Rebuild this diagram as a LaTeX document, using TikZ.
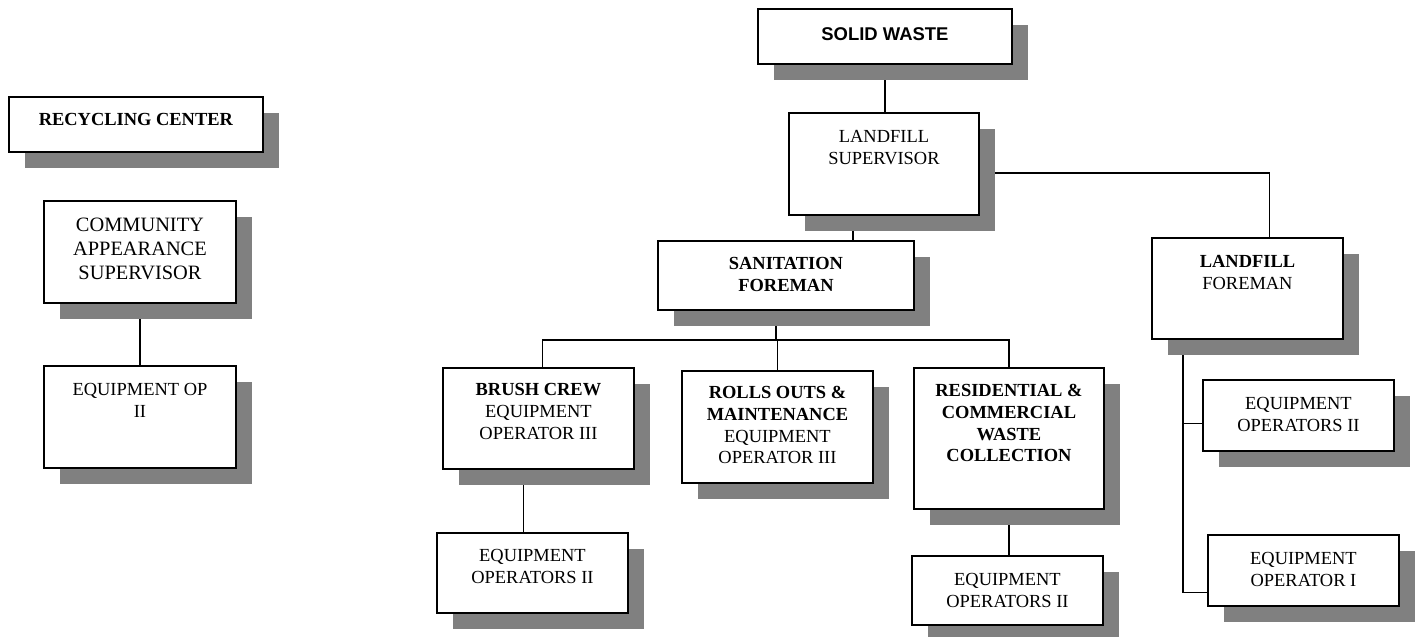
\documentclass[tikz,border=0pt]{standalone}
\usepackage{fontspec}
\setmainfont{Liberation Serif}
\setsansfont{Liberation Sans}
\usetikzlibrary{positioning,calc,shadows,backgrounds}
\definecolor{shade}{RGB}{128,128,128}

\begin{document}
\begin{tikzpicture}[x=0.02cm,y=-0.02cm,
    box/.style={draw,line width=1.1pt,fill=white,inner sep=0pt,anchor=north west,
      drop shadow={shadow xshift=0.33cm,shadow yshift=-0.33cm,fill=shade,opacity=1}},
    wh/.style 2 args={minimum width=#1*0.02cm,minimum height=#2*0.02cm},
    txt/.style={anchor=north,inner sep=0pt,align=center,
      font=\fontsize{10.5}{12.4}\selectfont},
    link/.style={draw,line width=1.1pt}]
  \useasboundingbox (0,0) rectangle (1417,636);
  % recycling center side
  \node[box,wh={254}{55}] (rc) at (8,96) {};
  \node[box,wh={192}{102}] (cas) at (43,200) {};
  \node[box,wh={192}{102}] (eop) at (43,365) {};
  % solid waste side
  \node[box,wh={254}{55}] (sw) at (757,8) {};
  \node[box,wh={190}{102}] (ls) at (788,112) {};
  \node[box,wh={256}{69}] (sf) at (657,240) {};
  \node[box,wh={191}{101}] (lf) at (1151,237) {};
  \node[box,wh={191}{101}] (bc) at (442,367) {};
  \node[box,wh={191}{112}] (ro) at (681,370) {};
  \node[box,wh={190}{141}] (rcw) at (913,367) {};
  \node[box,wh={191}{80}] (bop) at (436,532) {};
  \node[box,wh={191}{69}] (rop) at (911,555) {};
  \node[box,wh={191}{71}] (lop2) at (1202,379) {};
  \node[box,wh={191}{71}] (lop1) at (1207,534) {};

  % texts
  \node[txt] (rc-t) at ($(rc.north)+(0,17)$) {\textbf{RECYCLING CENTER}};
  \node[txt,font=\fontsize{11.6}{13.6}\selectfont] (cas-t) at ($(cas.north)+(0,18)$)
    {COMMUNITY\\APPEARANCE\\SUPERVISOR};
  \node[txt] (eop-t) at ($(eop.north)+(0,18)$) {EQUIPMENT OP\\II};
  \node[txt,font=\sffamily\bfseries\fontsize{10.5}{12.4}\selectfont] (sw-t)
    at ($(sw.north)+(0,19)$) {SOLID WASTE};
  \node[txt] (ls-t) at ($(ls.north)+(0,18)$) {LANDFILL\\SUPERVISOR};
  \node[txt] (sf-t) at ($(sf.north)+(0,17)$) {\textbf{SANITATION}\\\textbf{FOREMAN}};
  \node[txt] (lf-t) at ($(lf.north)+(0,18)$) {\textbf{LANDFILL}\\FOREMAN};
  \node[txt] (bc-t) at ($(bc.north)+(0,16)$) {\textbf{BRUSH CREW}\\EQUIPMENT\\OPERATOR III};
  \node[txt] (ro-t) at ($(ro.north)+(0,16)$)
    {\textbf{ROLLS OUTS \&}\\\textbf{MAINTENANCE}\\EQUIPMENT\\OPERATOR III};
  \node[txt] (rcw-t) at ($(rcw.north)+(0,17)$)
    {\textbf{RESIDENTIAL \&}\\\textbf{COMMERCIAL}\\\textbf{WASTE}\\\textbf{COLLECTION}};
  \node[txt] (bop-t) at ($(bop.north)+(0,17)$) {EQUIPMENT\\OPERATORS II};
  \node[txt] (rop-t) at ($(rop.north)+(0,18)$) {EQUIPMENT\\OPERATORS II};
  \node[txt] (lop2-t) at ($(lop2.north)+(0,18)$) {EQUIPMENT\\OPERATORS II};
  \node[txt] (lop1-t) at ($(lop1.north)+(0,18)$) {EQUIPMENT\\OPERATOR I};

  % connectors, under the shadows
  \begin{scope}[on background layer]
    \coordinate (ls-s) at ($(ls.south)+(-31,0)$);
    \coordinate (lf-n) at ($(lf.north)+(22,0)$);
    \coordinate (sf-s) at ($(sf.south)+(-10,0)$);
    \coordinate (bus) at ($(sf.south)+(-10,29)$);
    \coordinate (bc-n) at ($(bc.north)+(4,0)$);
    \coordinate (bop-n) at ($(bop.north)+(-9,0)$);
    \coordinate (lf-v) at ($(lf.south west)+(32,0)$);
    \path[link] (cas.south) -- (cas.south |- eop.north);
    \path[link] (sw.south) -- (sw.south |- ls.north);
    \path[link] (ls-s) -- (ls-s |- sf.north);
    \path[link] ($(ls.east)+(0,9)$) -| (lf-n);
    \path[link] (sf-s) -- (bus);
    \path[link] (bc-n) |- (rcw.north |- bus) -- (rcw.north);
    \path[link] (ro.north) -- (ro.north |- bus);
    \path[link] (bop-n) -- (bop-n |- bc.south);
    \path[link] (rcw.south) -- (rcw.south |- rop.north);
    \path[link] (lf-v) |- ($(lop1.west)+(0,22)$);
    \path[link] ($(lop2.west)+(0,8)$) -| (lf-v);
  \end{scope}
\end{tikzpicture}
\end{document}
